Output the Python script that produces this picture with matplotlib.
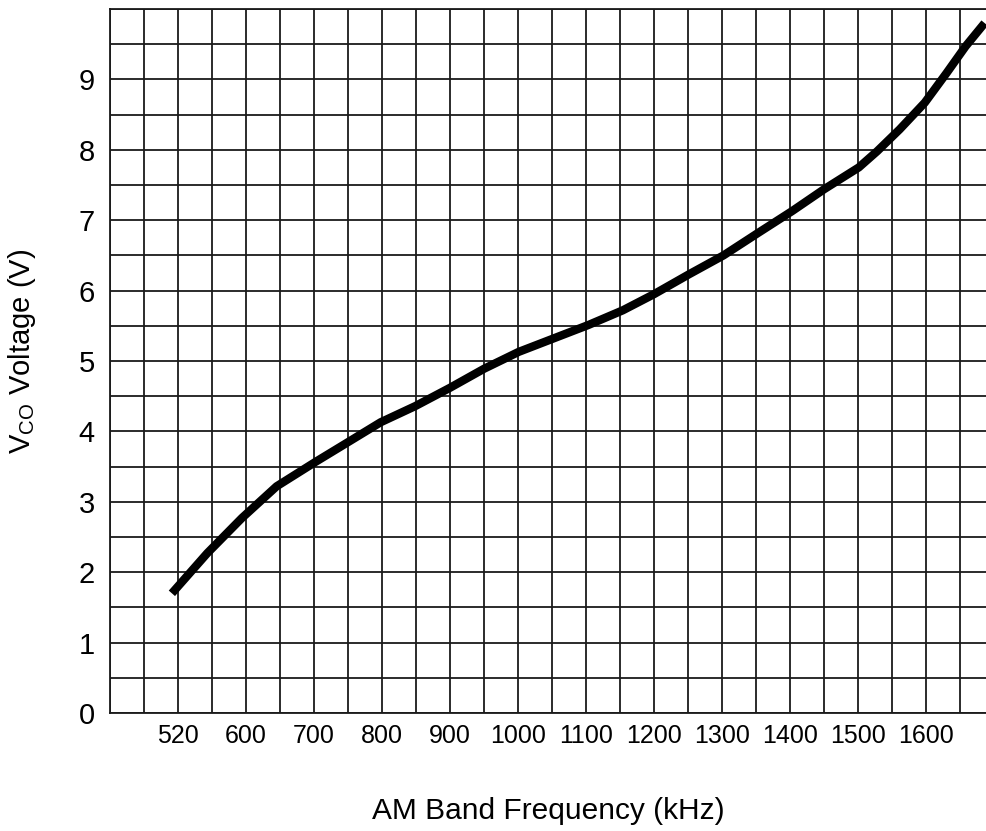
import matplotlib
matplotlib.use("Agg")
import matplotlib.pyplot as plt
from matplotlib import font_manager
from matplotlib.ticker import MultipleLocator

# Data (x in chart-scale kHz; first tick position is labelled "520")
freq = [491, 543, 594, 645, 701, 747, 798, 849, 900, 950, 1001, 1052, 1103,
        1154, 1200, 1251, 1302, 1353, 1403, 1450, 1501, 1528, 1561, 1598,
        1630, 1658, 1686]
volt = [1.70, 2.27, 2.77, 3.22, 3.56, 3.83, 4.13, 4.36, 4.62, 4.89, 5.13,
        5.32, 5.51, 5.72, 5.95, 6.23, 6.50, 6.82, 7.13, 7.44, 7.75, 7.98,
        8.29, 8.67, 9.09, 9.47, 9.80]
xtick_pos = [500, 600, 700, 800, 900, 1000, 1100, 1200, 1300, 1400, 1500, 1600]
xtick_labels = ["520", "600", "700", "800", "900", "1000", "1100", "1200",
                "1300", "1400", "1500", "1600"]
ytick_pos = [0, 1, 2, 3, 4, 5, 6, 7, 8, 9]

names = {f.name for f in font_manager.fontManager.ttflist}
main_font = "Liberation Sans" if "Liberation Sans" in names else "DejaVu Sans"
narrow_font = "Liberation Sans Narrow" if "Liberation Sans Narrow" in names else None
plt.rcParams["font.family"] = [main_font, "DejaVu Sans"]
plt.rcParams["mathtext.fontset"] = "custom"
plt.rcParams["mathtext.rm"] = main_font

fig = plt.figure(figsize=(9.86, 8.31), dpi=100)
ax = fig.add_axes([110 / 986, 1 - 713 / 831, 1 - 110 / 986, (713 - 9) / 831])

ax.set_xlim(400, 1688)
ax.set_ylim(0, 10)

ax.xaxis.set_minor_locator(MultipleLocator(50))
ax.yaxis.set_minor_locator(MultipleLocator(0.5))
ax.grid(which="both", color="#1a1a1a", linewidth=1.3)
ax.set_axisbelow(True)

ax.plot(freq, volt, color="black", linewidth=6.0, solid_capstyle="butt",
        solid_joinstyle="round", zorder=3)

ax.set_xticks(xtick_pos)
if narrow_font:
    ax.set_xticklabels(xtick_labels, fontfamily=narrow_font, fontsize=20)
else:
    ax.set_xticklabels(xtick_labels, fontsize=18)
ax.set_yticks(ytick_pos)
ax.set_yticklabels([str(v) for v in ytick_pos], fontsize=21)
ax.tick_params(which="both", length=0)
ax.tick_params(axis="x", pad=8)
ax.tick_params(axis="y", pad=11)

for s in ["left", "bottom", "top"]:
    ax.spines[s].set_linewidth(1.3)
    ax.spines[s].set_color("#1a1a1a")
ax.spines["right"].set_visible(False)

ax.set_xlabel("AM Band Frequency (kHz)", fontsize=21.5)
ax.xaxis.set_label_coords(0.5, -0.12)
ax.set_ylabel(r"$\mathregular{V_{CO}}$ Voltage (V)", fontsize=21)
ax.yaxis.set_label_coords(-0.082, 0.5135)

fig.savefig("out.png", dpi=100)
